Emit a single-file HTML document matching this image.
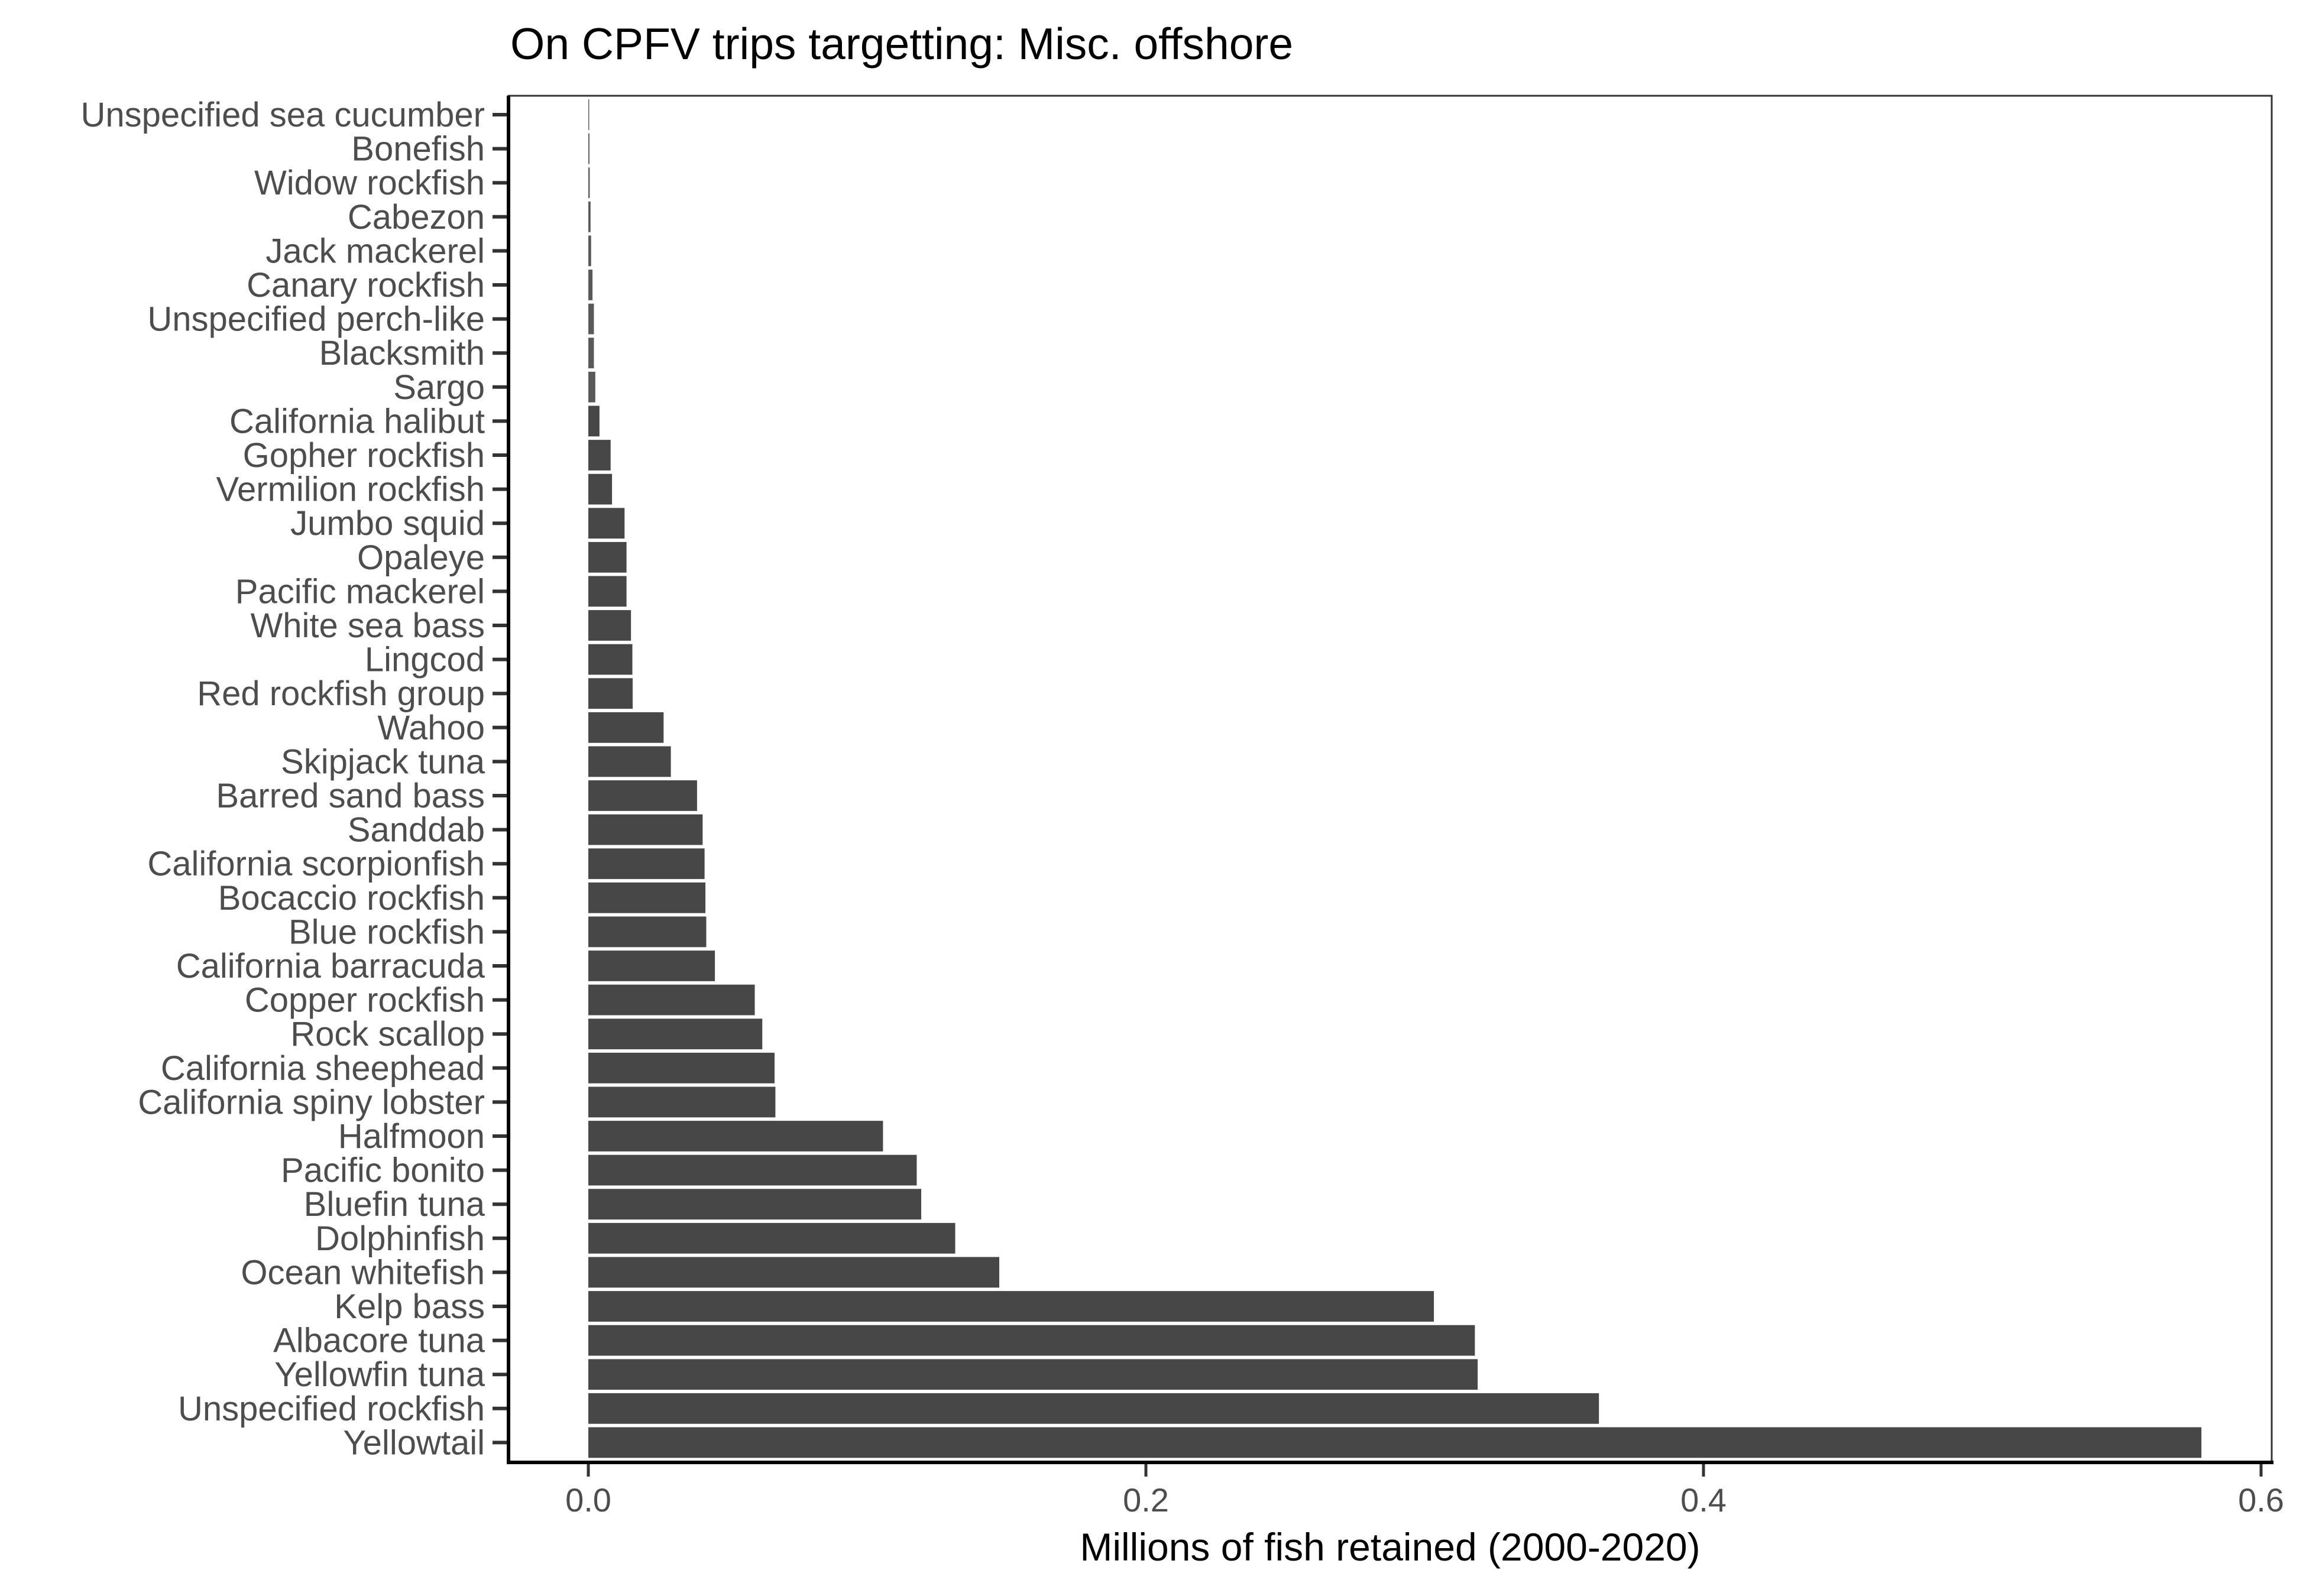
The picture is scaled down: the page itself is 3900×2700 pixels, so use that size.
<!DOCTYPE html>
<html><head><meta charset="utf-8"><style>
html,body{margin:0;padding:0;background:#fff;}
svg{display:block;font-family:"Liberation Sans",Arial,sans-serif;}
</style></head><body>
<svg id="chart" width="3900" height="2700" viewBox="0 0 3900 2700">
<text x="863" y="100" font-size="75" fill="#000">On CPFV trips targetting: Misc. offshore</text>
<rect x="860" y="162" width="2982" height="2311" fill="#fff" stroke="#333" stroke-width="3"/>
<g id="bars"></g>
<g id="yaxis"></g>
<g id="xaxis"></g>
<line x1="860" y1="162" x2="860" y2="2475" stroke="#000" stroke-width="6"/>
<line x1="857" y1="2474" x2="3845" y2="2474" stroke="#000" stroke-width="6"/>
<text x="2351" y="2640" font-size="66" text-anchor="middle" fill="#000">Millions of fish retained (2000-2020)</text>
</svg>
<script>
const categories = ["Unspecified sea cucumber","Bonefish","Widow rockfish","Cabezon","Jack mackerel","Canary rockfish","Unspecified perch-like","Blacksmith","Sargo","California halibut","Gopher rockfish","Vermilion rockfish","Jumbo squid","Opaleye","Pacific mackerel","White sea bass","Lingcod","Red rockfish group","Wahoo","Skipjack tuna","Barred sand bass","Sanddab","California scorpionfish","Bocaccio rockfish","Blue rockfish","California barracuda","Copper rockfish","Rock scallop","California sheephead","California spiny lobster","Halfmoon","Pacific bonito","Bluefin tuna","Dolphinfish","Ocean whitefish","Kelp bass","Albacore tuna","Yellowfin tuna","Unspecified rockfish","Yellowtail"];
const values = [0.0003,0.0004,0.0005,0.0008,0.001,0.0015,0.002,0.002,0.0025,0.004,0.008,0.0085,0.013,0.0137,0.0137,0.0153,0.0158,0.0159,0.027,0.0296,0.039,0.041,0.0417,0.042,0.0423,0.0454,0.0597,0.0624,0.0668,0.0671,0.1057,0.1178,0.1194,0.1316,0.1474,0.3033,0.318,0.319,0.3625,0.5786];
const xTicks = [0, 0.2, 0.4, 0.6];
const xTickLabels = ["0.0","0.2","0.4","0.6"];

const NS = "http://www.w3.org/2000/svg";
const x = v => 995 + v * 4715;
const y = i => 194 + i * 57.6;
const bw = 51.8;
const bars = document.getElementById('bars');
const yaxis = document.getElementById('yaxis');
const xaxis = document.getElementById('xaxis');
categories.forEach((c, i) => {
  const r = document.createElementNS(NS, 'rect');
  const w = Math.max(x(values[i]) - x(0), 1);
  r.setAttribute('x', x(0));
  r.setAttribute('y', y(i) - bw / 2);
  r.setAttribute('width', w);
  r.setAttribute('height', bw);
  r.setAttribute('fill', values[i] < 0.003 ? '#595959' : '#474747');
  
  
  bars.appendChild(r);
  const t = document.createElementNS(NS, 'line');
  t.setAttribute('x1', 833); t.setAttribute('x2', 860);
  t.setAttribute('y1', y(i)); t.setAttribute('y2', y(i));
  t.setAttribute('stroke', '#333'); t.setAttribute('stroke-width', 6);
  
  
  yaxis.appendChild(t);
  const l = document.createElementNS(NS, 'text');
  l.setAttribute('x', 820); l.setAttribute('y', y(i) + 20);
  l.setAttribute('text-anchor', 'end'); l.setAttribute('font-size', 58);
  l.setAttribute('fill', '#4d4d4d');
  l.textContent = c;
  
  
  yaxis.appendChild(l);
});
xTicks.forEach((v, i) => {
  const t = document.createElementNS(NS, 'line');
  t.setAttribute('x1', x(v)); t.setAttribute('x2', x(v));
  t.setAttribute('y1', 2474); t.setAttribute('y2', 2498);
  t.setAttribute('stroke', '#333'); t.setAttribute('stroke-width', 5);
  
  
  xaxis.appendChild(t);
  const l = document.createElementNS(NS, 'text');
  l.setAttribute('x', x(v)); l.setAttribute('y', 2557);
  l.setAttribute('text-anchor', 'middle'); l.setAttribute('font-size', 56);
  l.setAttribute('fill', '#4d4d4d');
  l.textContent = xTickLabels[i];
  
  
  xaxis.appendChild(l);
});
</script>
</body></html>
